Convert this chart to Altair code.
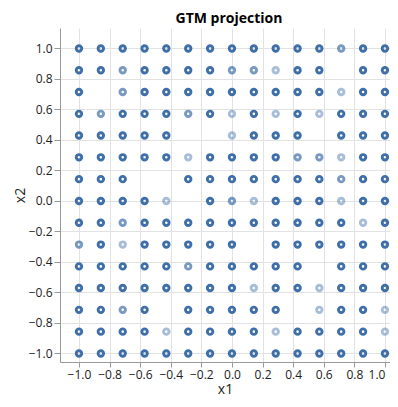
import altair as alt
import pandas as pd

# Grid coordinates (15 x 15 latent grid)
x_vals = [-1.0, -0.857, -0.714, -0.571, -0.429, -0.286, -0.143, 0.0,
          0.143, 0.286, 0.429, 0.571, 0.714, 0.857, 1.0]
y_vals = [1.0, 0.857, 0.714, 0.571, 0.429, 0.286, 0.143, 0.0,
          -0.143, -0.286, -0.429, -0.571, -0.714, -0.857, -1.0]

# Strength of each node (row = y, col = x); None = empty node
S, M, L, N = 1.0, 0.7, 0.45, None
weights = [
    [S, S, S, S, S, S, S, S, S, S, S, S, M, S, S],
    [S, S, M, S, S, S, S, M, M, L, S, S, N, S, S],
    [S, N, M, S, S, S, S, S, S, S, S, S, L, S, S],
    [S, M, S, S, S, M, S, L, S, L, S, L, S, S, S],
    [S, S, S, S, S, N, N, L, S, S, S, N, S, S, S],
    [S, S, S, S, S, L, S, S, S, S, M, M, L, S, S],
    [S, S, S, N, N, S, S, S, S, S, S, S, M, S, S],
    [S, S, S, S, L, N, S, M, L, S, S, S, L, S, S],
    [S, S, M, S, S, S, S, S, S, S, S, S, S, L, S],
    [M, S, L, S, S, S, S, S, N, S, S, S, S, S, S],
    [S, S, S, S, S, M, S, S, S, S, S, N, S, S, S],
    [S, S, S, S, S, S, S, S, L, S, S, L, S, S, S],
    [S, S, M, S, N, S, S, S, S, S, N, L, S, S, L],
    [S, S, S, S, L, S, S, S, S, L, S, S, S, S, L],
    [S, S, S, S, S, S, S, S, S, S, S, S, S, S, S],
]

ticks = [-1.0, -0.8, -0.6, -0.4, -0.2, 0.0, 0.2, 0.4, 0.6, 0.8, 1.0]

rows = []
for i, yv in enumerate(y_vals):
    for j, xv in enumerate(x_vals):
        w = weights[i][j]
        if w is not None:
            rows.append({"x1": xv, "x2": yv, "w": w})
df = pd.DataFrame(rows)

last_label_align = {"condition": {"test": "datum.value >= 1", "value": "right"},
                    "value": "center"}

chart = alt.Chart(df).mark_point(
    filled=False, shape="circle", size=30, strokeWidth=2.9, color="#3f6fa8"
).encode(
    x=alt.X("x1:Q", title="x1",
            scale=alt.Scale(domain=[-1.124, 1.033], nice=False, zero=False),
            axis=alt.Axis(values=ticks, format=".1f", labelPadding=2, tickSize=5,
                          labelAlign=last_label_align,
                          titleY=31, titleBaseline="alphabetic")),
    y=alt.Y("x2:Q", title="x2",
            scale=alt.Scale(domain=[-1.056, 1.134], nice=False, zero=False),
            axis=alt.Axis(values=ticks, format=".1f", labelPadding=2, tickSize=6,
                          titleX=-36, titleBaseline="alphabetic")),
    opacity=alt.Opacity("w:Q", scale=None, legend=None),
).properties(
    width=330, height=334,
    autosize=alt.AutoSizeParams(type="none"),
    title=alt.Title("GTM projection", fontSize=14, fontWeight="bold", offset=2, dx=4),
    padding={"left": 52, "top": 20, "right": 0, "bottom": 33},
).configure_axis(
    labelFontSize=12, labelColor="#222", titleFontSize=14, titleFontWeight="normal",
    titleColor="#222", gridColor="#e2e2e2", domainColor="#999", tickColor="#999",
    labelFont="Open Sans", titleFont="Open Sans",
).configure_title(font="Open Sans").configure_view(stroke=None)

chart.save("out.html", embed_options={"renderer": "svg", "actions": False})
